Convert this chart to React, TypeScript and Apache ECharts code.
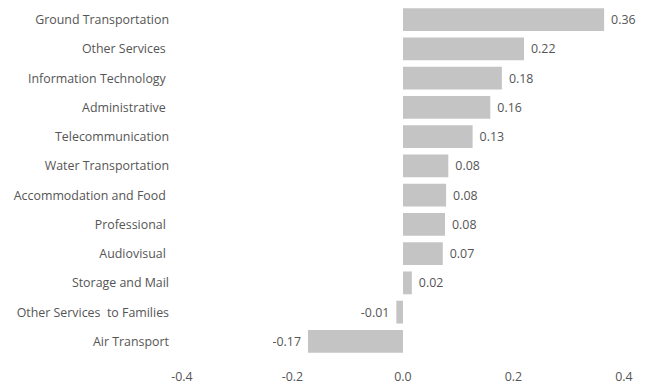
import React, { useEffect, useRef } from "react";
import * as echarts from "echarts";

const categories = [
  "Ground Transportation",
  "Other Services ",
  "Information Technology ",
  "Administrative ",
  "Telecommunication",
  "Water Transportation",
  "Accommodation and Food ",
  "Professional ",
  "Audiovisual ",
  "Storage and Mail",
  "Other Services  to Families",
  "Air Transport",
];

const values = [0.364, 0.219, 0.179, 0.158, 0.126, 0.082, 0.078, 0.076, 0.072, 0.016, -0.012, -0.172];

const xTicks = { min: -0.4, max: 0.4, interval: 0.2 };

const FONT = "'Open Sans', 'Noto Sans', sans-serif";
const TEXT = "#555555";
const FS = 12.4;

export default function App() {
  const ref = useRef<HTMLDivElement>(null);
  useEffect(() => {
    if (!ref.current) return;
    const chart = echarts.init(ref.current, undefined, { renderer: "svg" });
    chart.setOption({
      animation: false,
      grid: { left: 182, right: 26, top: 5, bottom: 31, containLabel: false },
      xAxis: {
        type: "value",
        min: xTicks.min,
        max: xTicks.max,
        interval: xTicks.interval,
        axisLine: { show: false },
        axisTick: { show: false },
        splitLine: { show: false },
        axisLabel: {
          color: TEXT,
          fontFamily: FONT,
          fontSize: FS,
          margin: 14,
          formatter: (v: number) => v.toFixed(1),
        },
      },
      yAxis: {
        type: "category",
        data: categories,
        inverse: true,
        axisLine: { show: false },
        axisTick: { show: false },
        splitLine: { show: false },
        axisLabel: {
          color: TEXT,
          fontFamily: FONT,
          fontSize: FS,
          margin: 13,
        },
      },
      series: [
        {
          type: "bar",
          barCategoryGap: "22%",
          itemStyle: { color: "#c4c4c4" },
          data: values.map((v) => ({
            value: v,
            label: {
              show: true,
              position: v < 0 ? "left" : "right",
              distance: 7,
              color: TEXT,
              fontFamily: FONT,
              fontSize: FS,
              formatter: (p: any) => Number(p.value).toFixed(2),
            },
          })),
        },
      ],
    });
    return () => chart.dispose();
  }, []);
  return (
    <div
      ref={ref}
      style={{ position: "absolute", left: 0, top: 0, width: 650, height: 387 }}
    />
  );
}
